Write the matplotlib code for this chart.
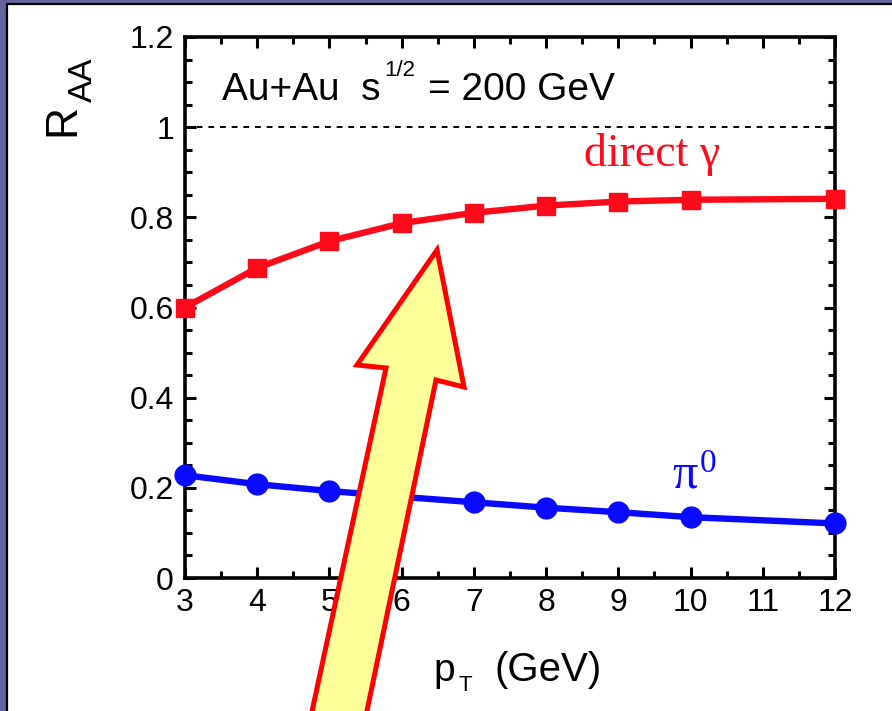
import matplotlib.pyplot as plt
import numpy as np
from matplotlib.patches import Polygon, Rectangle
from matplotlib.ticker import MultipleLocator, FixedFormatter, FixedLocator

plt.rcParams['font.family'] = 'Liberation Sans'

# nuclear modification factor vs pT, central Au+Au
pt = [3, 4, 5, 6, 7, 8, 9, 10, 12]
raa_gamma = [0.600, 0.688, 0.747, 0.787, 0.810, 0.826, 0.835, 0.839, 0.841]
raa_pi0 = [0.228, 0.208, 0.193, 0.180, 0.168, 0.156, 0.146, 0.135, 0.121]

y_ticks = [0, 0.2, 0.4, 0.6, 0.8, 1.0, 1.2]
y_ticklabels = ['0', '0.2', '0.4', '0.6', '0.8', '1', '1.2']
x_ticks = [3, 4, 5, 6, 7, 8, 9, 10, 11, 12]

W, H = 892, 711
fig = plt.figure(figsize=(W / 100, H / 100), dpi=100, facecolor='#65659b')


def px(x, y):
    # slide pixel position -> figure fraction
    return x / W, 1 - y / H


# white slide panel with a thin black edge
fig.add_artist(Rectangle((7 / W, -0.02), 1.0, 1.02 - 4 / H, transform=fig.transFigure,
                         facecolor='white', edgecolor='black', lw=1.6, zorder=0))

ax = fig.add_axes([185 / W, 1 - 578 / H, 650 / W, 541 / H])
ax.set_facecolor('white')
ax.set_xlim(3, 12)
ax.set_ylim(0, 1.2)

ax.axhline(1.0, color='black', lw=1.4, ls=(0, (3, 3)), zorder=1)

ax.plot(pt, raa_gamma, color='#ff0a1a', lw=4.6, marker='s', ms=13.5,
        clip_on=False, zorder=3)
ax.plot(pt, raa_pi0, color='#0a0aff', lw=4.6, marker='o', ms=15,
        clip_on=False, zorder=3)

ax.xaxis.set_major_locator(FixedLocator(x_ticks))
ax.xaxis.set_minor_locator(MultipleLocator(0.5))
ax.yaxis.set_major_locator(FixedLocator(y_ticks))
ax.yaxis.set_major_formatter(FixedFormatter(y_ticklabels))
ax.yaxis.set_minor_locator(MultipleLocator(0.05))
ax.tick_params(which='both', direction='in', top=True, right=True, width=2.2,
               labelsize=23)
ax.tick_params(which='major', length=8)
ax.tick_params(which='minor', length=5)
ax.tick_params(axis='x', pad=7)
ax.tick_params(axis='y', pad=8)
for s in ax.spines.values():
    s.set_linewidth(2.6)

# collision system label
fig.text(*px(222, 100), 'Au+Au  s', fontsize=28, ha='left', va='baseline')
fig.text(*px(384, 76), '1/2', fontsize=16, ha='left', va='baseline')
fig.text(*px(428, 100), '= 200 GeV', fontsize=28, ha='left', va='baseline')

# curve labels
fig.text(*px(652, 166), 'direct γ', color='#ff0a1a', fontsize=33,
         family='Liberation Serif', ha='center', va='baseline')
fig.text(*px(672, 487), 'π', color='#0a0aff', fontsize=36,
         family='Liberation Serif', ha='left', va='baseline')
fig.text(*px(700, 472), '0', color='#0a0aff', fontsize=24,
         family='Liberation Serif', ha='left', va='baseline')

# axis titles
fig.text(*px(63, 120), 'R', rotation=90, fontsize=32, ha='center', va='center')
fig.text(*px(83, 80), 'AA', rotation=90, fontsize=24, ha='center', va='center')
fig.text(*px(433, 681), 'p', fontsize=28, ha='left', va='baseline')
fig.text(*px(458, 691), 'T', fontsize=16, ha='left', va='baseline')
fig.text(*px(494, 681), '(GeV)', fontsize=29, ha='left', va='baseline')

# big highlight arrow pointing at the photon curve
arrow_px = [(437, 250), (464, 387), (436, 380), (363, 730),
            (308, 730), (386, 368), (357, 365)]
arrow = Polygon([px(x, y) for x, y in arrow_px], closed=True,
                transform=fig.transFigure, facecolor='#ffff99', edgecolor='#ff0000',
                lw=3.6, joinstyle='miter', zorder=10, clip_on=False)
fig.add_artist(arrow)

fig.savefig('out.png', dpi=100, facecolor=fig.get_facecolor())
